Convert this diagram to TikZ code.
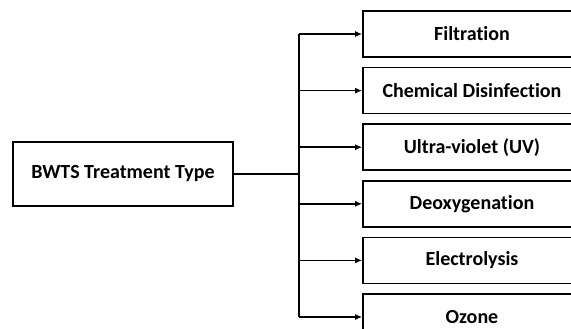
\documentclass[tikz,border=0pt]{standalone}
\usepackage{fontspec}
\setmainfont{Carlito}[Ligatures=NoCommon]
\usepackage{tikz}
\usetikzlibrary{arrows.meta,positioning,calc}
\def\boxwidth{218pt}
\def\boxheight{46pt}
\def\boxsep{9pt}
\begin{document}
\begin{tikzpicture}[x=1pt,y=-1pt, node distance=\boxsep, myarrow/.style={-{Latex[length=7pt,width=6pt]}}]
    \tikzstyle{typebox}=[rectangle,draw=black,line width=1.6pt,fill=white,minimum width=\boxwidth,minimum height=\boxheight,inner sep=0pt,font=\fontsize{20}{24}\selectfont\bfseries]
    \tikzstyle{root box}=[typebox,minimum width=220pt,minimum height=64pt];
    \tikzstyle{link}=[line width=1.5pt,draw=black];
    \clip (0,0) rectangle (571,329);
    % Draw the nodes
    \node[root box] (root) at (123,174) {BWTS Treatment Type};
    \coordinate (split) at ($(root.east)+(65,0)$);

    \node[typebox] (T-1) at (472,34) {Filtration};
    \node[typebox, below=of T-1] (T-2) {Chemical Disinfection};
    \node[typebox, below=of T-2] (T-3) {Ultra-violet (UV)};
    \node[typebox, below=of T-3] (T-4) {Deoxygenation};
    \node[typebox, below=of T-4] (T-5) {Electrolysis};
    \node[typebox, below=of T-5] (T-6) {Ozone};

    % Connect every node
    \draw[link] (root.east) -- (split);
    \draw[link] (split |- T-1.west) -- (split |- T-6.west);
    \foreach \dest in {1,...,6}
        \draw[link,myarrow] (split |- T-\dest.west) -- (T-\dest.west);
\end{tikzpicture}
\end{document}
